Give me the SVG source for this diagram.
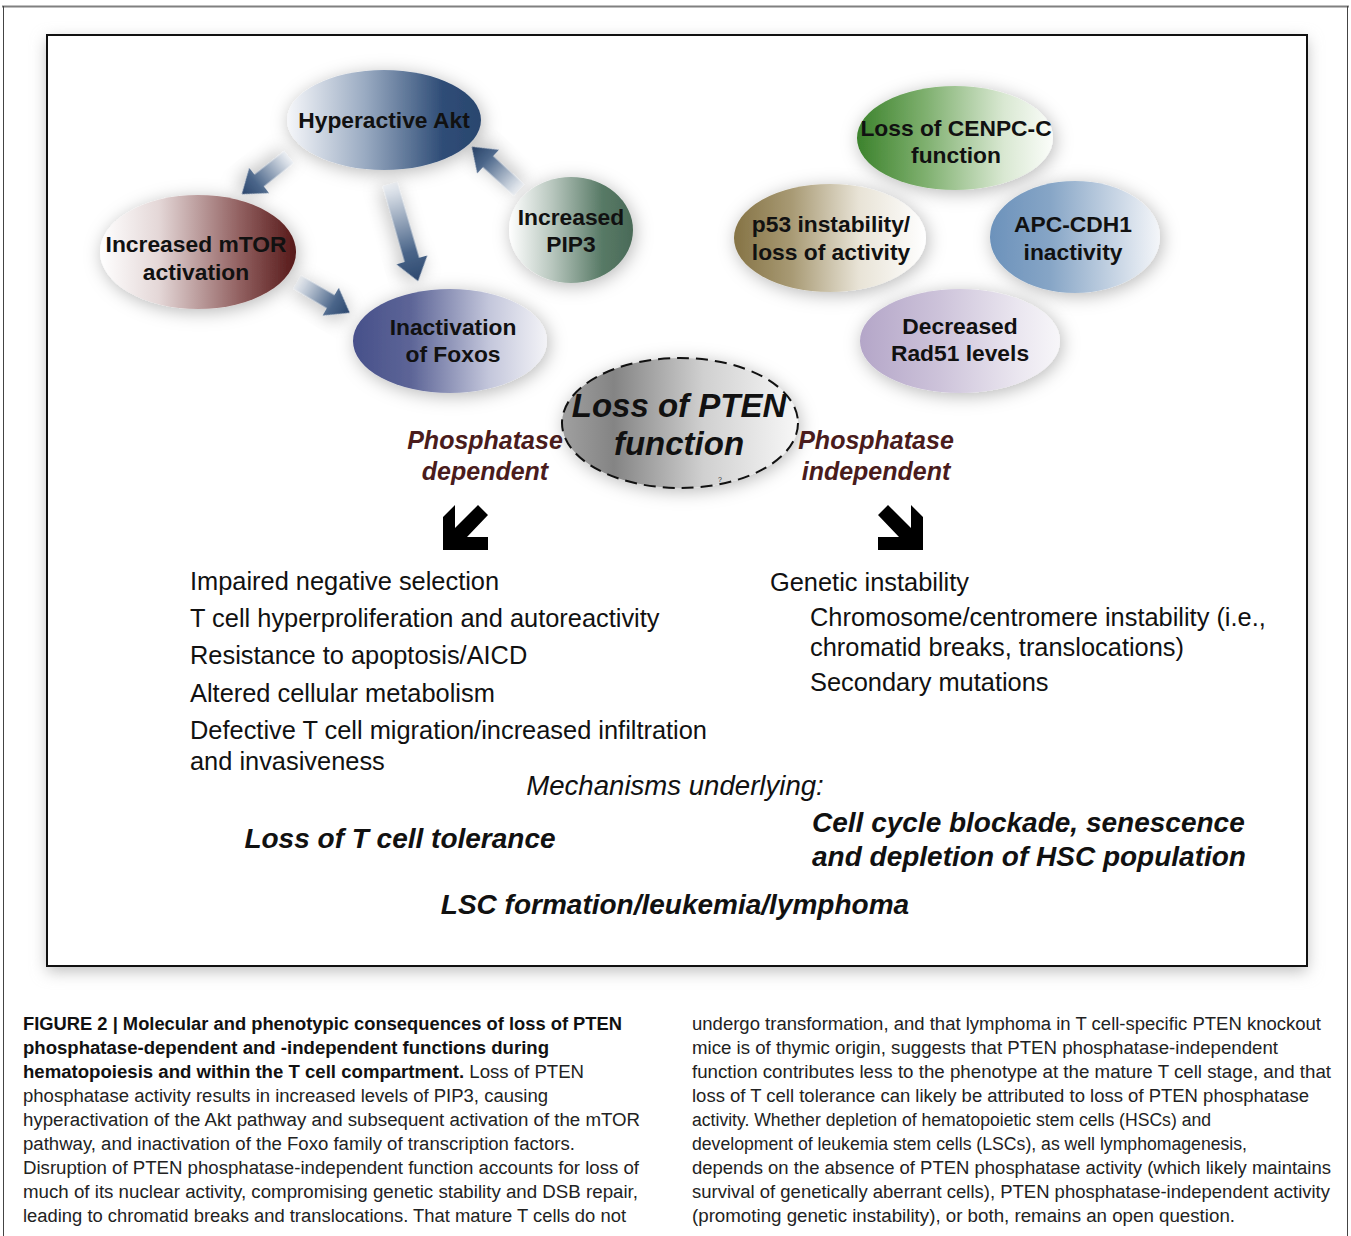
<svg xmlns="http://www.w3.org/2000/svg" width="1351" height="1236" viewBox="0 0 1351 1236">
<style>
.lbl{font-family:"Liberation Sans",Arial,sans-serif;font-weight:bold;font-size:22.8px;fill:#111;text-anchor:middle}
.list{font-family:"Liberation Sans",Arial,sans-serif;font-size:25.4px;fill:#111}
.ph{font-family:"Liberation Sans",Arial,sans-serif;font-weight:bold;font-style:italic;font-size:25px;fill:#4a1c1c;text-anchor:middle}
.big{font-family:"Liberation Sans",Arial,sans-serif;font-weight:bold;font-style:italic;font-size:28px;fill:#111}
.mech{font-family:"Liberation Sans",Arial,sans-serif;font-style:italic;font-size:27.6px;fill:#111;text-anchor:middle}
.cap{font-family:"Liberation Sans",Arial,sans-serif;font-size:18px;fill:#222}
.b{font-weight:bold;fill:#111}
.barrow{fill:url(#gArrow);filter:url(#sh)}
</style>
<defs>
<filter id="sh" x="-40%" y="-40%" width="180%" height="180%">
<feGaussianBlur in="SourceAlpha" stdDeviation="9"/>
<feOffset dx="2" dy="3" result="b"/>
<feFlood flood-color="#000" flood-opacity="0.28"/>
<feComposite in2="b" operator="in"/>
<feMerge><feMergeNode/><feMergeNode in="SourceGraphic"/></feMerge>
</filter>
<filter id="boxsh" x="-5%" y="-5%" width="110%" height="110%">
<feGaussianBlur stdDeviation="8"/>
</filter>
<linearGradient id="gArrow" x1="0" y1="0" x2="1" y2="0">
<stop offset="0" stop-color="#eef1f5"/><stop offset="0.7" stop-color="#4a6589"/><stop offset="1" stop-color="#2c476e"/>
</linearGradient>
<linearGradient id="gAkt" x1="0" y1="0" x2="1" y2="0">
<stop offset="0" stop-color="#f6f7fa"/><stop offset="0.4" stop-color="#9aabc2"/><stop offset="0.8" stop-color="#2f4d77"/><stop offset="1" stop-color="#2a466e"/>
</linearGradient>
<linearGradient id="gMtor" x1="0" y1="0" x2="1" y2="0">
<stop offset="0" stop-color="#ffffff"/><stop offset="0.3" stop-color="#e4d7d7"/><stop offset="0.7" stop-color="#946464"/><stop offset="1" stop-color="#561818"/>
</linearGradient>
<linearGradient id="gPip" x1="0" y1="0" x2="1" y2="0">
<stop offset="0" stop-color="#ffffff"/><stop offset="0.35" stop-color="#b7c6bd"/><stop offset="0.75" stop-color="#587a66"/><stop offset="1" stop-color="#4a6a58"/>
</linearGradient>
<linearGradient id="gFox" x1="0" y1="0" x2="1" y2="0">
<stop offset="0" stop-color="#47508a"/><stop offset="0.3" stop-color="#5d6597"/><stop offset="0.7" stop-color="#c3c6db"/><stop offset="1" stop-color="#f3f3f7"/>
</linearGradient>
<linearGradient id="gCen" x1="0" y1="0" x2="1" y2="0">
<stop offset="0" stop-color="#3c822c"/><stop offset="0.35" stop-color="#7fb06f"/><stop offset="0.75" stop-color="#d9e8d2"/><stop offset="1" stop-color="#fbfdfa"/>
</linearGradient>
<linearGradient id="gP53" x1="0" y1="0" x2="1" y2="0">
<stop offset="0" stop-color="#857345"/><stop offset="0.3" stop-color="#a89a74"/><stop offset="0.65" stop-color="#e8e3d6"/><stop offset="1" stop-color="#ffffff"/>
</linearGradient>
<linearGradient id="gApc" x1="0" y1="0" x2="1" y2="0">
<stop offset="0" stop-color="#6c92bb"/><stop offset="0.35" stop-color="#86a5c6"/><stop offset="0.75" stop-color="#c9d6e5"/><stop offset="1" stop-color="#f4f6f9"/>
</linearGradient>
<linearGradient id="gRad" x1="0" y1="0" x2="1" y2="0">
<stop offset="0" stop-color="#b4a6c8"/><stop offset="0.4" stop-color="#cdc3da"/><stop offset="0.8" stop-color="#ebe7f0"/><stop offset="1" stop-color="#f7f6f9"/>
</linearGradient>
<linearGradient id="gPten" x1="0" y1="0" x2="1" y2="0">
<stop offset="0" stop-color="#a0a0a0"/><stop offset="0.22" stop-color="#848484"/><stop offset="0.6" stop-color="#d0d0d0"/><stop offset="1" stop-color="#f7f7f7"/>
</linearGradient>
</defs>

<rect width="1351" height="1236" fill="#fff"/>
<g id="frame">
<line x1="2" y1="6.5" x2="1349" y2="6.5" stroke="#808080" stroke-width="2"/>
<line x1="3.5" y1="6" x2="3.5" y2="1236" stroke="#444" stroke-width="1"/>
<line x1="1347.5" y1="6" x2="1347.5" y2="1236" stroke="#444" stroke-width="1"/>
<rect x="47" y="40" width="1260" height="931" fill="#bbb" filter="url(#boxsh)"/>
<rect x="47" y="35" width="1260" height="931" fill="#fff" stroke="#111" stroke-width="2"/>
</g>

<g id="connectors">
<path class="barrow" transform="translate(289,157) rotate(141.8)" d="M0,-7.5 H38 V-16 L60,0 L38,16 V7.5 H0 Z"/>
<path class="barrow" transform="translate(390,184) rotate(73.9)" d="M0,-7.5 H79 V-16 L101,0 L79,16 V7.5 H0 Z"/>
<path class="barrow" transform="translate(297,282) rotate(30.3)" d="M0,-7.5 H39 V-16 L61,0 L39,16 V7.5 H0 Z"/>
<path class="barrow" transform="translate(519,190) rotate(-137.5)" d="M0,-7.5 H42 V-16 L64,0 L42,16 V7.5 H0 Z"/>
<path id="arrowL" fill="#000" d="M443,517 L455,505 L455,528 L478,505 L488,515 L467,537 L488,537 L488,550 L443,550 Z"/>
<path id="arrowR" fill="#000" transform="translate(1366,0) scale(-1,1)" d="M443,517 L455,505 L455,528 L478,505 L488,515 L467,537 L488,537 L488,550 L443,550 Z"/>
</g>

<g id="akt"><ellipse cx="384" cy="120" rx="97" ry="50" fill="url(#gAkt)" filter="url(#sh)"/><text class="lbl" x="384" y="128">Hyperactive Akt</text></g>
<g id="mtor"><ellipse cx="198" cy="252" rx="98" ry="57" fill="url(#gMtor)" filter="url(#sh)"/><text class="lbl" x="196" y="252">Increased mTOR</text><text class="lbl" x="196" y="280">activation</text></g>
<g id="pip3"><ellipse cx="571" cy="230" rx="62" ry="53" fill="url(#gPip)" filter="url(#sh)"/><text class="lbl" x="571" y="225">Increased</text><text class="lbl" x="571" y="252">PIP3</text></g>
<g id="foxos"><ellipse cx="450" cy="341" rx="97" ry="52" fill="url(#gFox)" filter="url(#sh)"/><text class="lbl" x="453" y="335">Inactivation</text><text class="lbl" x="453" y="362">of Foxos</text></g>
<g id="cenpc"><ellipse cx="955" cy="138" rx="98" ry="52" fill="url(#gCen)" filter="url(#sh)"/><text class="lbl" x="956" y="136">Loss of CENPC-C</text><text class="lbl" x="956" y="163">function</text></g>
<g id="p53"><ellipse cx="830" cy="238" rx="96" ry="54" fill="url(#gP53)" filter="url(#sh)"/><text class="lbl" x="831" y="232">p53 instability/</text><text class="lbl" x="831" y="260">loss of activity</text></g>
<g id="apc"><ellipse cx="1075" cy="237" rx="85" ry="56" fill="url(#gApc)" filter="url(#sh)"/><text class="lbl" x="1073" y="232">APC-CDH1</text><text class="lbl" x="1073" y="260">inactivity</text></g>
<g id="rad51"><ellipse cx="960" cy="341" rx="100" ry="52" fill="url(#gRad)" filter="url(#sh)"/><text class="lbl" x="960" y="334">Decreased</text><text class="lbl" x="960" y="361">Rad51 levels</text></g>
<g id="pten">
<ellipse cx="680" cy="423" rx="118" ry="65" fill="url(#gPten)" filter="url(#sh)"/>
<ellipse cx="680" cy="423" rx="118" ry="65" fill="none" stroke="#111" stroke-width="2" stroke-dasharray="12 7"/>
<text class="big" x="679" y="417" text-anchor="middle" style="font-size:33px">Loss of PTEN</text>
<text class="big" x="679" y="455" text-anchor="middle" style="font-size:33px">function</text>
<text x="718" y="482" font-family="Liberation Sans,sans-serif" font-size="7" fill="#333">?</text>
</g>

<g id="labels">
<text class="ph" x="485" y="449">Phosphatase</text>
<text class="ph" x="485" y="480">dependent</text>
<text class="ph" x="876" y="449">Phosphatase</text>
<text class="ph" x="876" y="480">independent</text>
</g>

<g id="left-list">
<text class="list" x="190" y="590">Impaired negative selection</text>
<text class="list" x="190" y="627">T cell hyperproliferation and autoreactivity</text>
<text class="list" x="190" y="664">Resistance to apoptosis/AICD</text>
<text class="list" x="190" y="702">Altered cellular metabolism</text>
<text class="list" x="190" y="739">Defective T cell migration/increased infiltration</text>
<text class="list" x="190" y="770">and invasiveness</text>
</g>
<g id="right-list">
<text class="list" x="770" y="591">Genetic instability</text>
<text class="list" x="810" y="626">Chromosome/centromere instability (i.e.,</text>
<text class="list" x="810" y="656">chromatid breaks, translocations)</text>
<text class="list" x="810" y="691">Secondary mutations</text>
</g>
<g id="outcomes">
<text class="mech" x="675" y="795">Mechanisms underlying:</text>
<text class="big" x="400" y="848" text-anchor="middle">Loss of T cell tolerance</text>
<text class="big" x="812" y="832">Cell cycle blockade, senescence</text>
<text class="big" x="812" y="866">and depletion of HSC population</text>
<text class="big" x="675" y="914" text-anchor="middle">LSC formation/leukemia/lymphoma</text>
</g>

<g id="caption">
<text class="cap b" x="23" y="1030" textLength="599" lengthAdjust="spacingAndGlyphs">FIGURE 2 | Molecular and phenotypic consequences of loss of PTEN</text>
<text class="cap b" x="23" y="1054" textLength="526" lengthAdjust="spacingAndGlyphs">phosphatase-dependent and -independent functions during</text>
<text class="cap" x="23" y="1078" textLength="561" lengthAdjust="spacingAndGlyphs"><tspan class="b">hematopoiesis and within the T cell compartment.</tspan> Loss of PTEN</text>
<text class="cap" x="23" y="1102" textLength="525" lengthAdjust="spacingAndGlyphs">phosphatase activity results in increased levels of PIP3, causing</text>
<text class="cap" x="23" y="1126" textLength="617" lengthAdjust="spacingAndGlyphs">hyperactivation of the Akt pathway and subsequent activation of the mTOR</text>
<text class="cap" x="23" y="1150" textLength="552" lengthAdjust="spacingAndGlyphs">pathway, and inactivation of the Foxo family of transcription factors.</text>
<text class="cap" x="23" y="1174" textLength="616" lengthAdjust="spacingAndGlyphs">Disruption of PTEN phosphatase-independent function accounts for loss of</text>
<text class="cap" x="23" y="1198" textLength="615" lengthAdjust="spacingAndGlyphs">much of its nuclear activity, compromising genetic stability and DSB repair,</text>
<text class="cap" x="23" y="1222" textLength="603" lengthAdjust="spacingAndGlyphs">leading to chromatid breaks and translocations. That mature T cells do not</text>
<text class="cap" x="692" y="1030" textLength="629" lengthAdjust="spacingAndGlyphs">undergo transformation, and that lymphoma in T cell-specific PTEN knockout</text>
<text class="cap" x="692" y="1054" textLength="586" lengthAdjust="spacingAndGlyphs">mice is of thymic origin, suggests that PTEN phosphatase-independent</text>
<text class="cap" x="692" y="1078" textLength="639" lengthAdjust="spacingAndGlyphs">function contributes less to the phenotype at the mature T cell stage, and that</text>
<text class="cap" x="692" y="1102" textLength="617" lengthAdjust="spacingAndGlyphs">loss of T cell tolerance can likely be attributed to loss of PTEN phosphatase</text>
<text class="cap" x="692" y="1126" textLength="519" lengthAdjust="spacingAndGlyphs">activity. Whether depletion of hematopoietic stem cells (HSCs) and</text>
<text class="cap" x="692" y="1150" textLength="555" lengthAdjust="spacingAndGlyphs">development of leukemia stem cells (LSCs), as well lymphomagenesis,</text>
<text class="cap" x="692" y="1174" textLength="639" lengthAdjust="spacingAndGlyphs">depends on the absence of PTEN phosphatase activity (which likely maintains</text>
<text class="cap" x="692" y="1198" textLength="638" lengthAdjust="spacingAndGlyphs">survival of genetically aberrant cells), PTEN phosphatase-independent activity</text>
<text class="cap" x="692" y="1222" textLength="543" lengthAdjust="spacingAndGlyphs">(promoting genetic instability), or both, remains an open question.</text>
</g>
</svg>
